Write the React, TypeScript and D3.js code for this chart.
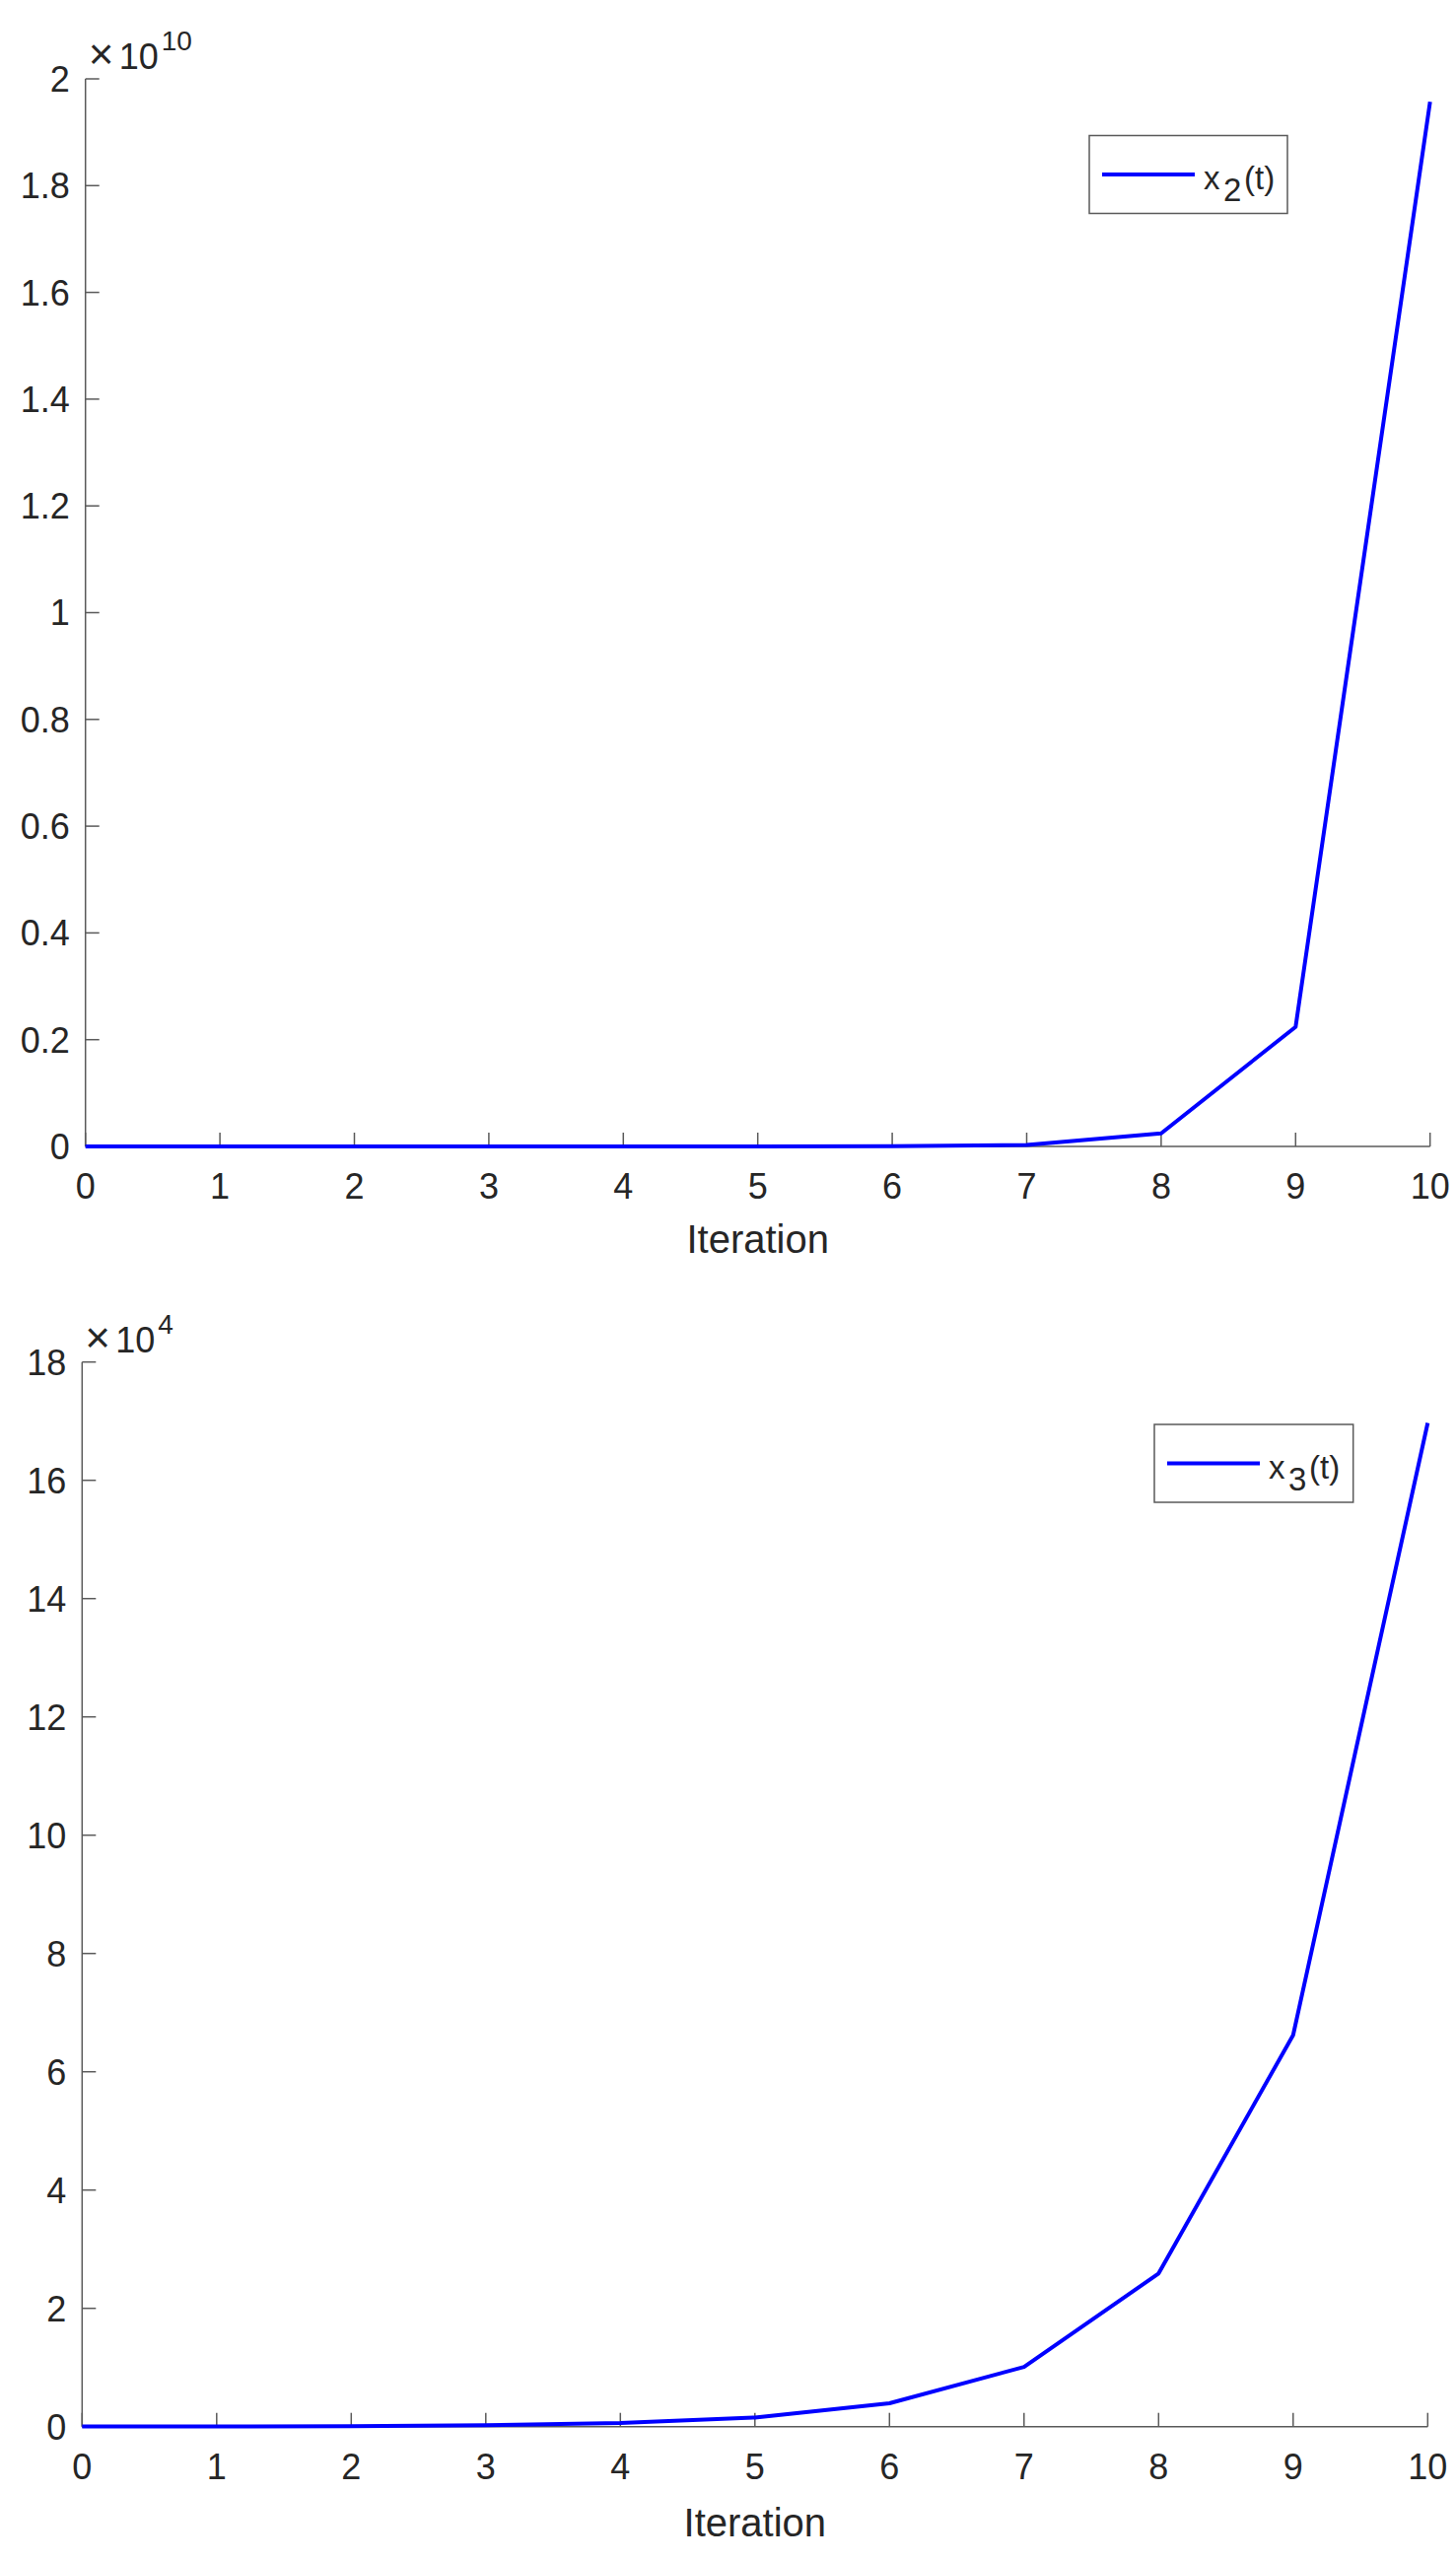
import * as d3 from "d3";

const W = 1477;
const H = 2598;

const iterations = [0, 1, 2, 3, 4, 5, 6, 7, 8, 9, 10];
// x2(t)
const x2Values = [7, 64, 560, 4.9e3, 4.3e4, 3.7e5, 3.3e6, 2.9e7, 2.45e8, 2.24e9, 1.957e10];
// x3(t)
const x3Values = [14, 36, 92, 235, 600, 1540, 3950, 10100, 25900, 66200, 169700];

const x2Ticks = [0, 0.2, 0.4, 0.6, 0.8, 1, 1.2, 1.4, 1.6, 1.8, 2];
const x3Ticks = [0, 2, 4, 6, 8, 10, 12, 14, 16, 18];

const FONT = "'Liberation Sans', Arial, Helvetica, sans-serif";
const TEXT = "#262626";
const AXIS = "#5a5a5a";

type PanelProps = {
  left: number;
  right: number;
  top: number;
  bottom: number;
  values: number[];
  ticks: number[];
  factor: number;
  exponent: string;
  subscript: string;
  legend: { x: number; y: number; w: number; h: number };
  xlabelY: number;
};

const Panel = ({ left, right, top, bottom, values, ticks, factor, exponent, subscript, legend, xlabelY }: PanelProps) => {
  const x = d3.scaleLinear().domain([0, 10]).range([left, right]);
  const y = d3.scaleLinear().domain([0, ticks[ticks.length - 1] * factor]).range([bottom, top]);
  const line = d3
    .line<number>()
    .x((d, i) => x(iterations[i]))
    .y((d) => y(d));
  const fmt = d3.format("~g");
  const tickLen = 14;
  const mid = legend.y + legend.h / 2;

  return (
    <g fontFamily={FONT} fill={TEXT}>
      {/* axes */}
      <line x1={left} x2={left} y1={top} y2={bottom} stroke={AXIS} strokeWidth={1.5} />
      <line x1={left} x2={right} y1={bottom} y2={bottom} stroke={AXIS} strokeWidth={1.5} />
      {iterations.map((t) => (
        <g key={"x" + t}>
          <line x1={x(t)} x2={x(t)} y1={bottom} y2={bottom - tickLen} stroke={AXIS} strokeWidth={1.5} />
          <text x={x(t)} y={bottom + 53} textAnchor="middle" fontSize={36}>
            {t}
          </text>
        </g>
      ))}
      {ticks.map((v) => (
        <g key={"y" + v}>
          <line x1={left} x2={left + tickLen} y1={y(v * factor)} y2={y(v * factor)} stroke={AXIS} strokeWidth={1.5} />
          <text x={left - 16} y={y(v * factor)} dy="0.36em" textAnchor="end" fontSize={36}>
            {fmt(v)}
          </text>
        </g>
      ))}
      {/* exponent label */}
      <text y={top - 10} fontSize={36}>
        <tspan x={left + 3} fontSize={44}>
          ×
        </tspan>
        <tspan x={left + 34}>10</tspan>
        <tspan x={left + 77} y={top - 29} fontSize={28}>
          {exponent}
        </tspan>
      </text>
      <text x={(left + right) / 2} y={xlabelY} textAnchor="middle" fontSize={40}>
        Iteration
      </text>
      <path d={line(values) ?? ""} fill="none" stroke="#0000ff" strokeWidth={4} strokeLinejoin="round" />
      {/* legend */}
      <rect x={legend.x} y={legend.y} width={legend.w} height={legend.h} fill="#fff" stroke={AXIS} strokeWidth={1.5} />
      <line x1={legend.x + 13} x2={legend.x + 107} y1={mid} y2={mid} stroke="#0000ff" strokeWidth={4} />
      <text y={mid + 15} fontSize={33}>
        <tspan x={legend.x + 116}>x</tspan>
        <tspan x={legend.x + 136} y={mid + 27}>
          {subscript}
        </tspan>
        <tspan x={legend.x + 157} y={mid + 15}>
          (t)
        </tspan>
      </text>
    </g>
  );
};

const App = () => {
  return (
    <svg width={W} height={H} style={{ position: "absolute", left: 0, top: 0, background: "#fff" }}>
      <rect width={W} height={H} fill="#fff" />
      <Panel
        left={86.7}
        right={1450.7}
        top={80}
        bottom={1163}
        values={x2Values}
        ticks={x2Ticks}
        factor={1e10}
        exponent="10"
        subscript="2"
        legend={{ x: 1105, y: 137.5, w: 201, h: 79 }}
        xlabelY={1271}
      />
      <Panel
        left={83.3}
        right={1448.3}
        top={1381.7}
        bottom={2461.7}
        values={x3Values}
        ticks={x3Ticks}
        factor={1e4}
        exponent="4"
        subscript="3"
        legend={{ x: 1171, y: 1445, w: 201.7, h: 79 }}
        xlabelY={2573}
      />
    </svg>
  );
};

export default App;
